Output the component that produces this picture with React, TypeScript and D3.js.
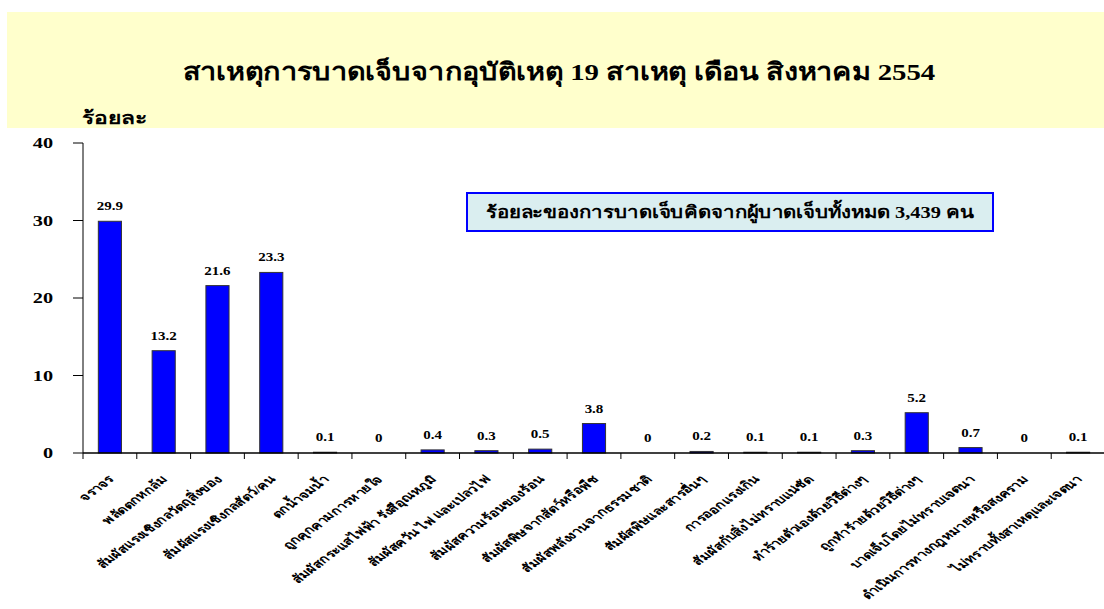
import * as d3 from 'd3'

const categories = [
  'จราจร',
  'พลัดตกหกล้ม',
  'สัมผัสแรงเชิงกลวัตถุสิ่งของ',
  'สัมผัสแรงเชิงกลสัตว์/คน',
  'ตกน้ำจมน้ำ',
  'ถูกคุกคามการหายใจ',
  'สัมผัสกระแสไฟฟ้า รังสีอุณหภูมิ',
  'สัมผัสควัน ไฟ และเปลวไฟ',
  'สัมผัสความร้อนของร้อน',
  'สัมผัสพิษจากสัตว์หรือพืช',
  'สัมผัสพลังงานจากธรรมชาติ',
  'สัมผัสพิษและสารอื่นๆ',
  'การออกแรงเกิน',
  'สัมผัสกับสิ่งไม่ทราบแน่ชัด',
  'ทำร้ายตัวเองด้วยวิธีต่างๆ',
  'ถูกทำร้ายด้วยวิธีต่างๆ',
  'บาดเจ็บโดยไม่ทราบเจตนา',
  'ดำเนินการทางกฎหมายหรือสงคราม',
  'ไม่ทราบทั้งสาเหตุและเจตนา',
]
const values = [29.9, 13.2, 21.6, 23.3, 0.1, 0, 0.4, 0.3, 0.5, 3.8, 0, 0.2, 0.1, 0.1, 0.3, 5.2, 0.7, 0, 0.1]
const yTicks = [0, 10, 20, 30, 40]

const title = 'สาเหตุการบาดเจ็บจากอุบัติเหตุ 19 สาเหตุ เดือน สิงหาคม 2554'
const yLabel = 'ร้อยละ'
const note = 'ร้อยละของการบาดเจ็บคิดจากผู้บาดเจ็บทั้งหมด 3,439 คน'

const W = 1104
const H = 609
const serif = '"Liberation Serif", "DejaVu Serif", serif'
// the source picture is stretched sideways, so all text gets a horizontal scale
const SX = 1.35

export default function App() {
  const margin = { left: 83, right: 1105, top: 143, bottom: 453 }
  const x = d3
    .scaleBand<string>()
    .domain(categories)
    .range([margin.left, margin.right])
    .paddingInner(0.57)
    .paddingOuter(0.285)
  const y = d3.scaleLinear().domain([0, 40]).range([margin.bottom, margin.top])
  const step = x.step()
  const fmt = (v: number) => (v === 0 ? '0' : d3.format('.1f')(v))
  const cx = (c: string) => (x(c) ?? 0) + x.bandwidth() / 2

  return (
    <svg
      width={W}
      height={H}
      style={{ position: 'absolute', left: 0, top: 0, background: '#fff' }}
      fontFamily={serif}
      fontWeight="bold"
    >
      <rect x={7} y={12} width={W - 7} height={116} fill="#FFFFCC" />
      <text transform={`translate(559,80) scale(1.2,1)`} textAnchor="middle" fontSize={24}>
        {title}
      </text>
      <text transform={`translate(82,124) scale(1.27,1)`} fontSize={18}>
        {yLabel}
      </text>

      {/* y axis */}
      <line x1={margin.left} x2={margin.left} y1={y(40)} y2={y(0)} stroke="#000" />
      {yTicks.map((t) => (
        <g key={t}>
          <line x1={margin.left - 10} x2={margin.left} y1={y(t)} y2={y(t)} stroke="#000" />
          <text
            transform={`translate(53,${y(t)}) scale(${SX},1)`}
            dy="0.35em"
            textAnchor="end"
            fontSize={15}
          >
            {t}
          </text>
        </g>
      ))}

      {/* bars */}
      {categories.map((c, i) => (
        <g key={c}>
          <rect
            x={x(c)}
            y={y(values[i])}
            width={x.bandwidth()}
            height={y(0) - y(values[i])}
            fill="#0000FF"
            stroke="#333"
            strokeWidth={1}
          />
          <text
            transform={`translate(${cx(c)},${y(values[i]) - 11}) scale(1.2,1)`}
            textAnchor="middle"
            fontSize={12.5}
          >
            {fmt(values[i])}
          </text>
        </g>
      ))}

      {/* x axis */}
      <line x1={margin.left} x2={margin.right} y1={y(0)} y2={y(0)} stroke="#000" strokeWidth={1.5} />
      {d3.range(categories.length + 1).map((i) => (
        <line
          key={i}
          x1={margin.left + i * step}
          x2={margin.left + i * step}
          y1={y(0)}
          y2={y(0) + 6}
          stroke="#000"
        />
      ))}
      {categories.map((c) => (
        <text
          key={c}
          transform={`translate(${cx(c) + 5},${y(0) + 27}) scale(${SX},1) rotate(-45)`}
          textAnchor="end"
          fontSize={11}
        >
          {c}
        </text>
      ))}

      {/* note box */}
      <rect x={467} y={193} width={526} height={38} fill="#DAEEF0" stroke="#0000FF" strokeWidth={2} />
      <text transform={`translate(730,212) scale(1.2,1)`} dy="0.35em" textAnchor="middle" fontSize={17}>
        {note}
      </text>
    </svg>
  )
}
